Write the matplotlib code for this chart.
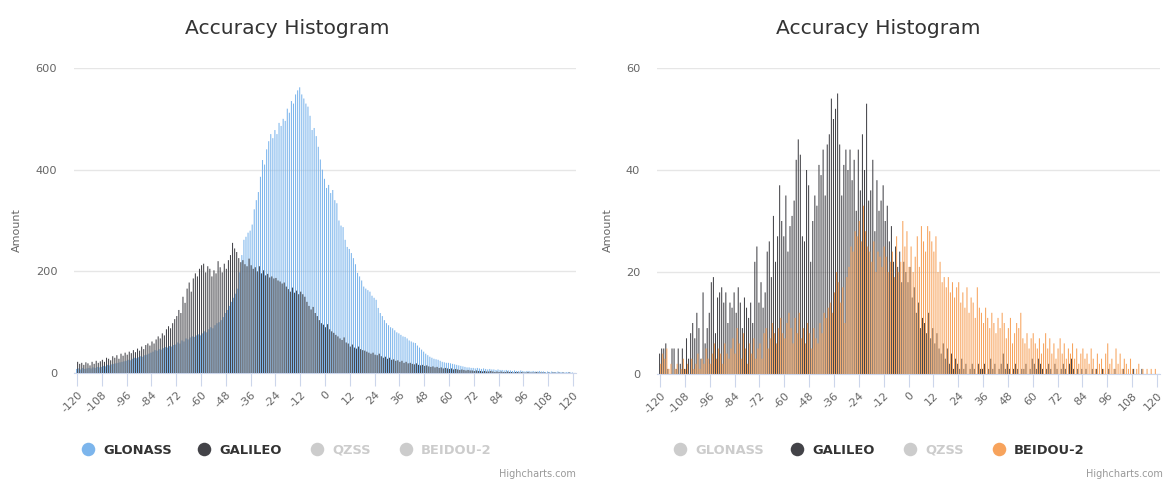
import numpy as np
import matplotlib
matplotlib.use("Agg")
import matplotlib.pyplot as plt

W, H = 1166, 479

# bins run from -120 to 120 in steps of 1
bins = np.arange(-120, 121)
x_ticks = list(range(-120, 121, 12))

glonass_left = [
  8, 9, 7, 10, 8, 9, 10, 9, 11, 10, 12, 11,
  12, 14, 13, 16, 15, 17, 18, 19, 20, 21, 22, 23,
  24, 26, 25, 28, 30, 29, 31, 33, 32, 35, 36, 38,
  40, 42, 45, 44, 47, 46, 49, 51, 50, 53, 52, 55,
  56, 60, 58, 64, 62, 68, 66, 70, 72, 71, 74, 76,
  74, 78, 82, 80, 86, 90, 88, 94, 98, 100, 104, 110,
  118, 124, 132, 140, 148, 156, 166, 198, 232, 262, 268, 276,
  280, 292, 322, 340, 356, 386, 419, 410, 440, 456, 470, 462,
  478, 470, 492, 486, 500, 496, 520, 512, 535, 530, 548, 556,
  562, 548, 540, 530, 524, 506, 478, 482, 466, 445, 420, 400,
  382, 364, 370, 354, 360, 340, 334, 300, 290, 287, 262, 248,
  244, 236, 226, 214, 197, 190, 182, 170, 166, 163, 160, 152,
  148, 144, 128, 118, 112, 104, 98, 94, 90, 88, 84, 80,
  78, 75, 72, 71, 68, 64, 62, 60, 59, 54, 50, 46,
  42, 38, 35, 32, 30, 28, 27, 26, 24, 22, 21, 20,
  20, 19, 18, 17, 16, 15, 14, 13, 12, 11, 11, 10,
  10, 9, 10, 9, 8, 9, 8, 7, 8, 7, 7, 6,
  7, 6, 6, 5, 6, 5, 5, 4, 5, 4, 4, 5,
  4, 3, 4, 4, 3, 4, 3, 3, 4, 3, 3, 2,
  3, 2, 3, 2, 2, 3, 2, 2, 1, 2, 2, 1,
  1,
]

galileo_left = [
  22, 18, 20, 16, 21, 19, 15, 22, 18, 24, 20, 23,
  26, 22, 30, 28, 25, 33, 30, 35, 28, 38, 34, 40,
  36, 42, 39, 45, 41, 48, 44, 52, 47, 55, 58, 54,
  62, 58, 66, 72, 68, 78, 74, 86, 92, 88, 98, 106,
  112, 124, 118, 150, 138, 166, 178, 160, 186, 196, 190, 205,
  212, 215, 198, 210, 205, 190, 202, 196, 220, 208, 198, 215,
  205, 222, 232, 256, 245, 238, 226, 218, 222, 214, 210, 225,
  212, 205, 208, 200, 210, 196, 202, 192, 195, 188, 190, 186,
  187, 182, 180, 176, 178, 170, 165, 160, 168, 158, 162, 155,
  160, 155, 150, 140, 132, 125, 130, 118, 112, 104, 98, 95,
  90, 96, 86, 82, 79, 75, 72, 68, 65, 70, 60, 58,
  52, 56, 50, 48, 52, 47, 45, 44, 42, 40, 38, 40,
  36, 35, 38, 33, 30, 32, 28, 30, 26, 27, 24, 25,
  22, 24, 20, 22, 19, 20, 18, 17, 19, 16, 15, 16,
  14, 15, 13, 12, 13, 11, 12, 10, 11, 9, 10, 9,
  8, 9, 7, 8, 7, 6, 7, 6, 5, 6, 5, 5,
  4, 5, 4, 4, 3, 4, 3, 3, 4, 3, 2, 3,
  2, 3, 2, 2, 3, 2, 2, 1, 2, 2, 1, 2,
  1, 1, 2, 1, 1, 1, 2, 1, 1, 1, 1, 0,
  1, 0, 1, 1, 0, 1, 0, 1, 0, 0, 1, 0,
  0,
]

galileo_right = [
  4, 5, 5, 6, 1, 0, 5, 5, 1, 5, 2, 5,
  1, 7, 3, 8, 10, 7, 12, 9, 3, 16, 6, 9,
  12, 18, 19, 8, 15, 16, 17, 14, 16, 10, 14, 13,
  16, 12, 17, 14, 9, 15, 13, 11, 14, 10, 22, 25,
  14, 18, 13, 16, 24, 26, 19, 31, 22, 27, 37, 30,
  27, 35, 24, 29, 31, 34, 42, 46, 43, 27, 26, 40,
  37, 22, 30, 35, 33, 41, 39, 44, 35, 45, 47, 54,
  50, 52, 55, 45, 35, 41, 44, 40, 44, 38, 42, 32,
  44, 36, 47, 40, 53, 34, 36, 42, 28, 38, 32, 34,
  37, 30, 33, 26, 29, 22, 25, 21, 24, 18, 22, 20,
  18, 21, 15, 17, 12, 14, 9, 11, 10, 8, 12, 7,
  9, 6, 8, 5, 4, 6, 3, 5, 2, 4, 1, 3,
  2, 1, 3, 1, 2, 0, 1, 2, 1, 0, 2, 1,
  1, 2, 0, 1, 3, 1, 2, 0, 1, 2, 4, 1,
  2, 1, 0, 1, 2, 1, 0, 1, 1, 2, 0, 1,
  3, 2, 1, 3, 2, 1, 0, 1, 2, 1, 0, 2,
  1, 0, 1, 2, 1, 0, 2, 3, 1, 0, 1, 0,
  1, 0, 1, 0, 0, 1, 0, 1, 0, 0, 1, 0,
  0, 1, 0, 0, 1, 0, 0, 0, 1, 0, 0, 0,
  0, 1, 0, 0, 0, 1, 0, 0, 0, 0, 0, 0,
  0,
]

beidou_right = [
  2, 4, 3, 5, 1, 2, 0, 1, 2, 0, 1, 3,
  1, 2, 0, 3, 1, 2, 4, 1, 3, 2, 5, 3,
  2, 4, 6, 3, 5, 4, 2, 6, 4, 3, 5, 7,
  4, 9, 6, 3, 8, 5, 2, 6, 4, 7, 3, 5,
  6, 3, 8, 9, 5, 7, 10, 8, 6, 9, 11, 8,
  7, 10, 12, 9, 6, 11, 8, 12, 7, 9, 6, 10,
  8, 5, 9, 7, 6, 10, 8, 12, 11, 13, 14, 12,
  16, 20, 18, 14, 17, 10, 19, 21, 25, 24, 28, 27,
  30, 26, 33, 28, 25, 24, 22, 26, 20, 24, 23, 21,
  25, 23, 20, 22, 24, 19, 27, 20, 22, 30, 25, 28,
  21, 25, 20, 23, 27, 21, 29, 26, 24, 29, 28, 26,
  24, 27, 20, 22, 18, 19, 17, 19, 16, 18, 15, 17,
  18, 14, 16, 13, 17, 12, 15, 14, 11, 17, 13, 12,
  10, 13, 11, 9, 12, 10, 8, 11, 9, 12, 10, 7,
  9, 11, 6, 8, 10, 9, 12, 7, 6, 8, 5, 7,
  8, 6, 5, 7, 4, 6, 8, 5, 7, 4, 6, 3,
  5, 7, 4, 6, 3, 5, 4, 6, 3, 5, 2, 4,
  5, 3, 4, 2, 5, 3, 1, 4, 2, 3, 1, 4,
  6, 2, 3, 1, 5, 2, 4, 1, 3, 2, 1, 3,
  1, 0, 1, 2, 0, 1, 0, 1, 0, 1, 0, 1,
  0,
]

series_names = ["GLONASS", "GALILEO", "QZSS", "BEIDOU-2"]
series_colors = ["#7cb5ec", "#434348", "#90ed7d", "#f7a35c"]
hidden_color = "#cccccc"
FONT = "DejaVu Sans"


def px_axes(left, top, right, bottom):
  return [left / W, (H - bottom) / H, (right - left) / W, (bottom - top) / H]


def style_axis(ax, ymax, ystep):
  ax.set_xlim(-121.5, 121.5)
  ax.set_ylim(0, ymax)
  ax.set_yticks(np.arange(0, ymax + 1, ystep))
  ax.set_xticks(x_ticks)
  ax.set_xticklabels([str(t) for t in x_ticks], rotation=45, ha="right",
                     va="top", rotation_mode="anchor")
  for s in ["top", "right", "left"]:
    ax.spines[s].set_visible(False)
  ax.spines["bottom"].set_color("#ccd6eb")
  ax.grid(axis="y", color="#e6e6e6", linewidth=1)
  ax.set_axisbelow(True)
  ax.tick_params(axis="x", length=9, color="#ccd6eb", labelsize=8,
                 labelcolor="#666666", pad=3)
  ax.tick_params(axis="y", length=0, labelsize=8.2, labelcolor="#666666", pad=12)
  for lbl in ax.get_xticklabels() + ax.get_yticklabels():
    lbl.set_family(FONT)


def draw_pair(ax, first, second, c1, c2):
  w = 0.5
  b1 = ax.bar(bins - 0.25, first, width=w, color=c1, linewidth=0, zorder=2)
  b2 = ax.bar(bins + 0.25, second, width=w, color=c2, linewidth=0, zorder=3)
  for p in list(b1) + list(b2):
    p.set_snap(False)


def draw_legend(over, x0s, visible, y=449):
  for i, name in enumerate(series_names):
    col = series_colors[i] if visible[i] else hidden_color
    tcol = "#333333" if visible[i] else hidden_color
    over.scatter([x0s[i]], [y], s=95, color=col, linewidths=0)
    over.text(x0s[i] + 15, y + 1, name, color=tcol, fontsize=9.4, fontweight="bold",
              family=FONT, ha="left", va="center")


def run():
  fig = plt.figure(figsize=(W / 100, H / 100), dpi=100)

  axL = fig.add_axes(px_axes(74, 68, 576, 373))
  draw_pair(axL, glonass_left, galileo_left, series_colors[0], series_colors[1])
  style_axis(axL, 600, 200)

  axR = fig.add_axes(px_axes(657, 68, 1160, 374))
  draw_pair(axR, galileo_right, beidou_right, series_colors[1], series_colors[3])
  style_axis(axR, 60, 20)

  over = fig.add_axes([0, 0, 1, 1])
  over.set_xlim(0, W)
  over.set_ylim(H, 0)
  over.axis("off")

  for cx in [287, 878]:
    over.text(cx, 28, "Accuracy Histogram", fontsize=14.6, color="#333333",
              family=FONT, ha="center", va="center")
  for lx in [17, 608]:
    over.text(lx, 230, "Amount", fontsize=8, color="#666666", family=FONT,
              rotation=90, ha="center", va="center")

  draw_legend(over, [88, 204, 317, 406], [True, True, False, False])
  draw_legend(over, [680, 797, 910, 999], [False, True, False, True])

  for rx in [576, 1163]:
    over.text(rx, 474, "Highcharts.com", fontsize=7, color="#999999",
              family=FONT, ha="right", va="center")

  fig.savefig("out.png", dpi=100)


if __name__ == '__main__':
  run()
